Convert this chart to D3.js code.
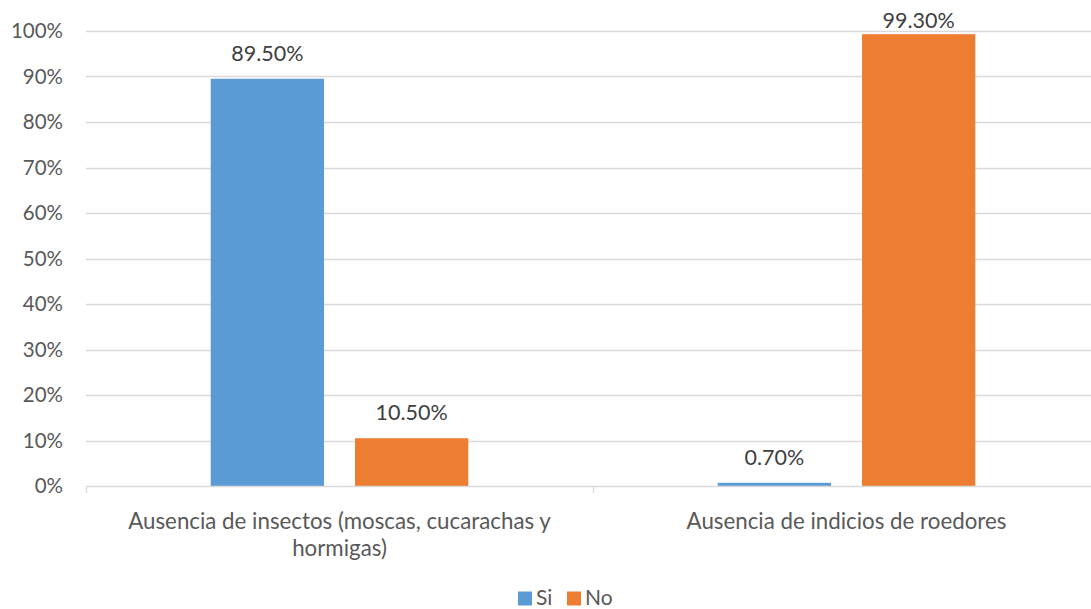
<!DOCTYPE html>
<html>
<head>
<meta charset="utf-8">
<script src="https://cdn.jsdelivr.net/npm/d3@7"></script>
<style>
  html, body { margin: 0; padding: 0; background: #fff; }
  svg { display: block; font-family: Lato, "Open Sans", sans-serif; }
</style>
</head>
<body>
<svg id="chart" width="1091" height="609"></svg>
<script>
const categories = [
  ["Ausencia de insectos (moscas, cucarachas y", "hormigas)"],
  ["Ausencia de indicios de roedores"]
];
const seriesNames = ["Si", "No"];
const siValues = [89.5, 0.7];
const noValues = [10.5, 99.3];
const yTicks = [0, 10, 20, 30, 40, 50, 60, 70, 80, 90, 100];
const colors = ["#5B9BD5", "#ED7D31"];

const svg = d3.select("#chart");
const m = { left: 86, right: -9, top: 31, bottom: 123 };
const W = 1091, H = 609;
const iw = W - m.left - m.right, ih = H - m.top - m.bottom;
const g = svg.append("g").attr("transform", `translate(${m.left},${m.top})`);

const x0 = d3.scaleBand().domain(d3.range(categories.length)).range([0, iw]).paddingInner(0).paddingOuter(0);
const x1 = d3.scaleBand().domain(d3.range(seriesNames.length)).range([x0.bandwidth() * 0.246, x0.bandwidth() * 0.754]).paddingInner(0.215);
const y = d3.scaleLinear().domain([0, 100]).range([ih, 0]);

// gridlines
g.append("g").selectAll("line").data(yTicks.filter(t => t > 0)).join("line")
  .attr("x1", 0).attr("x2", iw).attr("y1", d => Math.round(y(d)) + 0.5).attr("y2", d => Math.round(y(d)) + 0.5)
  .attr("stroke", "#D9D9D9").attr("stroke-width", 1.3);

// y axis labels
const yAxis = d3.axisLeft(y).tickValues(yTicks).tickFormat(d => d + "%").tickSize(0).tickPadding(23);
const ya = g.append("g").call(yAxis);
ya.select(".domain").remove();
ya.selectAll("text").attr("fill", "#595959").style("font-size", "20.5px").style("font-family", "Lato, sans-serif");

// bars with value labels (labels kept inside the top of the chart area)
const series = [siValues, noValues];
series.forEach((vals, si) => {
  g.append("g").selectAll("rect").data(vals).join("rect")
    .attr("x", (d, i) => x0(i) + x1(si))
    .attr("width", x1.bandwidth())
    .attr("y", d => y(d))
    .attr("height", d => y(0) - y(d))
    .attr("fill", colors[si]);
  g.append("g").selectAll("text").data(vals).join("text")
    .attr("x", (d, i) => x0(i) + x1(si) + x1.bandwidth() / 2)
    .attr("y", d => Math.max(y(d) - 18, -3))
    .attr("text-anchor", "middle")
    .attr("fill", "#404040")
    .style("font-size", "21.5px")
    .text(d => d.toFixed(2) + "%");
});

// x axis
const xa = g.append("g").attr("transform", `translate(0,${ih})`);
xa.append("line").attr("x1", 0).attr("x2", iw).attr("y1", 0.5).attr("y2", 0.5).attr("stroke", "#D9D9D9").attr("stroke-width", 1.3);
[0, 1, 2].forEach(i => {
  const xx = Math.round(i * x0.bandwidth()) + 0.5;
  xa.append("line").attr("x1", xx).attr("x2", xx).attr("y1", 0).attr("y2", 7).attr("stroke", "#D9D9D9").attr("stroke-width", 1.3);
});
categories.forEach((lines, i) => {
  const t = xa.append("text").attr("text-anchor", "middle").attr("fill", "#595959").style("font-size", "22.3px");
  lines.forEach((ln, j) => {
    t.append("tspan").attr("x", x0(i) + x0.bandwidth() / 2).attr("y", 43 + j * 27).text(ln);
  });
});

// legend
const lg = svg.append("g").attr("transform", "translate(518,590)");
const items = [{ n: seriesNames[0], c: colors[0], x: 0 }, { n: seriesNames[1], c: colors[1], x: 49 }];
items.forEach(it => {
  lg.append("rect").attr("x", it.x).attr("y", 1.5).attr("width", 14).attr("height", 14).attr("fill", it.c);
  lg.append("text").attr("x", it.x + 18).attr("y", 14.5).attr("fill", "#595959").style("font-size", "21px").text(it.n);
});
</script>
</body>
</html>
